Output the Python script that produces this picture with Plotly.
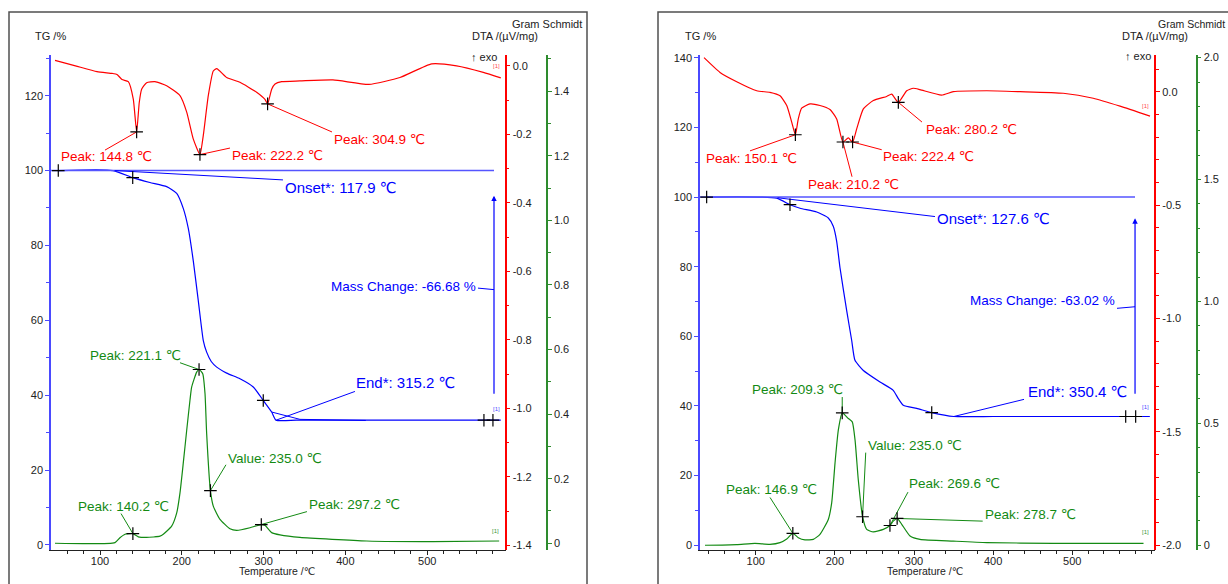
import numpy as np
import plotly.graph_objects as go

W, H = 1228, 584

# ---------------- Sample A (left panel) ----------------
tg_a_temp = [49, 116, 140, 161, 181.5, 193.8, 201.8, 207.9, 214.1, 220.2, 226.3, 230.4,
             236, 242.7, 254.9, 271.1, 287.4, 299.6, 309.9, 315.2, 340, 400, 500, 590]
tg_a = [100, 100, 98.1, 96.8, 95.7, 93.9, 89.9, 84.6, 75.8, 65.2, 54.6, 51.5,
        49.0, 47.5, 45.9, 44.4, 42.2, 38.6, 35.5, 33.32, 33.32, 33.32, 33.32, 33.32]

dta_a_temp = [45, 70, 96.3, 115, 120.8, 126.9, 134.6, 140.7, 144.8, 148, 150.9, 157, 167.2,
              181.5, 197.8, 206, 214.1, 222.2, 226.3, 232.4, 238.5, 242.7, 254.9, 271.1,
              291.5, 301.7, 304.9, 309.9, 314, 322.1, 344.5, 384.8, 428.8, 466.7, 505.5,
              536, 568.6, 590]
dta_a = [0.016, 0.000, -0.017, -0.022, -0.025, -0.040, -0.046, -0.097, -0.193, -0.107, -0.068,
         -0.049, -0.046, -0.058, -0.087, -0.135, -0.214, -0.259, -0.203, -0.087, -0.015,
         -0.008, -0.034, -0.048, -0.077, -0.098, -0.111, -0.068, -0.053, -0.046, -0.044,
         -0.041, -0.054, -0.034, 0.006, 0.000, -0.019, -0.035]

gs_a_temp = [45, 118.3, 124.4, 130.6, 140.2, 146.8, 157, 173.3, 177.4, 187.6, 193.8, 197.8,
             201.8, 206, 210, 212.1, 218.2, 221.1, 225.6, 228.4, 230.4, 235, 238.5, 246.7,
             258.9, 267.1, 283.4, 297.2, 302, 309.9, 320, 344.5, 426, 507, 588]
gs_a = [0.000, 0.002, 0.017, 0.028, 0.030, 0.020, 0.018, 0.022, 0.028, 0.053, 0.094, 0.156,
        0.248, 0.350, 0.443, 0.484, 0.530, 0.538, 0.525, 0.463, 0.340, 0.163, 0.115, 0.074,
        0.045, 0.040, 0.048, 0.058, 0.055, 0.033, 0.026, 0.018, 0.007, 0.005, 0.007]

dta_peaks_a = [144.8, 222.2, 304.9]
gs_peaks_a = [140.2, 221.1, 297.2]
gs_value_a = 235.0
onset_a, end_a, mass_change_a = 117.9, 315.2, -66.68
tg_marks_a = [49, 140, 299.6, 569.4, 580.4]

# ---------------- Sample B (right panel) ----------------
tg_b_temp = [38, 126.5, 143.3, 156, 177.1, 191.7, 198, 202.3, 206.5, 215, 221.3, 225.4,
             236, 257, 273.8, 280.2, 286.5, 303.4, 322.4, 350.4, 400, 500, 598]
tg_b = [100, 99.7, 97.8, 96.8, 95.7, 94.0, 91.6, 87.3, 79.7, 67.3, 58.8, 53.1,
        50.2, 46.9, 44.5, 42.1, 40.2, 39.3, 38.1, 36.98, 36.98, 36.98, 36.98]

dta_b_temp = [34.7, 54.9, 76, 101.3, 118, 130.7, 139.2, 145.5, 150.1, 153.8, 158, 168.6,
              181.2, 193.9, 202.3, 210.2, 217, 222.4, 227.6, 236, 248.6, 265.5, 271.8,
              280.2, 290.8, 299.1, 307.6, 335, 349.7, 391.9, 434, 488.6, 526.5, 560.3, 598.2]
dta_b = [0.150, 0.085, 0.044, 0.004, -0.003, -0.018, -0.061, -0.134, -0.190, -0.120, -0.073,
         -0.054, -0.061, -0.079, -0.120, -0.222, -0.204, -0.222, -0.164, -0.076, -0.039,
         -0.021, -0.011, -0.047, 0.004, 0.015, 0.009, -0.015, 0.000, 0.004, 0.000, -0.007,
         -0.029, -0.064, -0.108]

gs_b_temp = [35.9, 76, 99, 118, 130.7, 139.2, 146.9, 153.8, 162.3, 172.8, 181.2, 191.7, 196,
             200.2, 204.4, 209.3, 217, 222, 225.5, 229.6, 235, 240.2, 248.6, 261.2, 269.6,
             273.8, 278.7, 284.5, 295, 307.6, 349.7, 392, 476, 590]
gs_b = [0.000, 0.003, 0.008, 0.004, 0.011, 0.026, 0.049, 0.031, 0.022, 0.024, 0.045, 0.106,
        0.174, 0.337, 0.473, 0.543, 0.520, 0.506, 0.432, 0.269, 0.117, 0.065, 0.055, 0.065,
        0.081, 0.099, 0.110, 0.086, 0.038, 0.024, 0.017, 0.011, 0.008, 0.008]

dta_peaks_b = [150.1, 210.2, 222.4, 280.2]
gs_peaks_b = [146.9, 209.3, 269.6, 278.7]
gs_value_b = 235.0
onset_b, end_b, mass_change_b = 127.6, 350.4, -63.02
tg_marks_b = [38, 143.3, 322.4, 567.5, 580.1]

temp_ticks = [100, 200, 300, 400, 500]

# ---------------- styling ----------------
FONT = "Liberation Sans, Arial, DejaVu Sans, sans-serif"
BLUE, RED, GREEN = "#0000ff", "#ff0000", "#138a13"
AX_BLUE, AX_GREEN = "#4a4aff", "#2e8b2e"
TXT = "#222222"
PEAK_SIZE = 13.5


def px(x):
    return x / W


def py(y):
    return 1 - y / H


fig = go.Figure()


def curve(x, y, xa, ya, color):
    fig.add_trace(go.Scatter(x=x, y=y, xaxis=xa, yaxis=ya, mode="lines",
                             line=dict(color=color, width=1.2, shape="spline", smoothing=0.5),
                             hoverinfo="skip", showlegend=False))


def seg(x, y, xa, ya, color, width=1.0):
    fig.add_trace(go.Scatter(x=x, y=y, xaxis=xa, yaxis=ya, mode="lines",
                             line=dict(color=color, width=width),
                             hoverinfo="skip", showlegend=False))


def crosses(x, y, xa, ya):
    fig.add_trace(go.Scatter(x=x, y=y, xaxis=xa, yaxis=ya, mode="markers",
                             marker=dict(symbol="cross-thin", size=9,
                                         line=dict(width=1.2, color="black")),
                             hoverinfo="skip", showlegend=False))


annotations = []


def label(text, x, y, xa, ya, color, size=PEAK_SIZE, anchor="left"):
    annotations.append(dict(text=text, x=x, y=y, xref=xa, yref=ya, showarrow=False,
                            xanchor=anchor, yanchor="middle",
                            font=dict(family=FONT, size=size, color=color)))


def at(temps, xs, ys):
    return [float(np.interp(t, xs, ys)) for t in temps]


# ---------------- left panel ----------------
curve(dta_a_temp, dta_a, "x", "y2", RED)
curve(gs_a_temp, gs_a, "x", "y3", GREEN)
curve(tg_a_temp, tg_a, "x", "y", BLUE)

arrow_a = 581.7
seg([40.1, arrow_a], [100, 100], "x", "y", "#5555ff", 1.6)
# onset / end construction
seg([onset_a, 323.7], [100, 97.5], "x", "y", BLUE)
seg([309.9, 344.5, 425], [35.5, 33.55, 33.25], "x", "y", BLUE)
seg([end_a, 411.7], [100 + mass_change_a, 41.0], "x", "y", BLUE)
seg([562.1, arrow_a], [68.6, 68.2], "x", "y", BLUE)
crosses(tg_marks_a, at(tg_marks_a, tg_a_temp, tg_a), "x", "y")

# DTA peaks
dpa = at(dta_peaks_a, dta_a_temp, dta_a)
for t, v, (lx, ly, ex, ey) in zip(dta_peaks_a, dpa,
                                  [(49.9, -0.266, 106.1, -0.246),
                                   (258.9, -0.263, 258.9, -0.240),
                                   (383.6, -0.216, 383.6, -0.193)]):
    seg([t, ex], [v, ey], "x", "y2", RED)
    label(f"Peak: {t:.1f} ℃", lx, ly, "x", "y2", RED)
crosses(dta_peaks_a, dpa, "x", "y2")

# Gram-Schmidt peaks
gpa = at(gs_peaks_a, gs_a_temp, gs_a)
for t, v, (lx, ly, ex, ey) in zip(gs_peaks_a, gpa,
                                  [(70.7, 0.114, 125.7, 0.092),
                                   (85.3, 0.581, 197.8, 0.559),
                                   (353.0, 0.120, 353.0, 0.098)]):
    seg([t, ex], [v, ey], "x", "y3", GREEN)
    label(f"Peak: {t:.1f} ℃", lx, ly, "x", "y3", GREEN)
gva = float(np.interp(gs_value_a, gs_a_temp, gs_a))
seg([gs_value_a, 254.0], [gva, 0.243], "x", "y3", GREEN)
label(f"Value: {gs_value_a:.1f} ℃", 254.0, 0.264, "x", "y3", GREEN)
crosses(gs_peaks_a + [gs_value_a], gpa + [gva], "x", "y3")

label(f"Onset*: {onset_a:.1f} ℃", 323.7, 95.4, "x", "y", BLUE, 15)
label(f"End*: {end_a:.1f} ℃", 410.5, 43.4, "x", "y", BLUE, 15)
label(f"Mass Change: {mass_change_a:.2f} %", 562.1, 68.9, "x", "y", BLUE, 13.5, "right")
annotations.append(dict(x=arrow_a, y=93.3, ax=arrow_a, ay=40.0, xref="x", yref="y",
                        axref="x", ayref="y", text="", showarrow=True, arrowhead=2,
                        arrowsize=0.9, arrowwidth=1.2, arrowcolor=BLUE, standoff=0))

# ---------------- right panel ----------------
curve(dta_b_temp, dta_b, "x2", "y5", RED)
curve(gs_b_temp, gs_b, "x2", "y6", GREEN)
curve(tg_b_temp, tg_b, "x2", "y4", BLUE)

arrow_b = 579.3
seg([29.6, arrow_b], [100, 100], "x2", "y4", "#5555ff", 1.6)
seg([onset_b, 326.5], [99.8, 94.4], "x2", "y4", BLUE)
seg([end_b, 439.0], [100 + mass_change_b, 41.9], "x2", "y4", BLUE)
seg([556.5, arrow_b], [68.05, 68.5], "x2", "y4", BLUE)
crosses(tg_marks_b, at(tg_marks_b, tg_b_temp, tg_b), "x2", "y4")

dpb = at(dta_peaks_b, dta_b_temp, dta_b)
for t, v, (lx, ly, ex, ey) in zip(dta_peaks_b, dpb,
                                  [(34.7, -0.296, 92.8, -0.261),
                                   (163.6, -0.410, 221.7, -0.375),
                                   (258.3, -0.288, 259.2, -0.256),
                                   (312.6, -0.165, 310.1, -0.134)]):
    seg([t, ex], [v, ey], "x2", "y5", RED)
    label(f"Peak: {t:.1f} ℃", lx, ly, "x2", "y5", RED)
crosses(dta_peaks_b, dpb, "x2", "y5")

gpb = at(gs_peaks_b, gs_b_temp, gs_b)
for t, v, (lx, ly, ex, ey) in zip(gs_peaks_b, gpb,
                                  [(59.9, 0.228, 118.1, 0.196),
                                   (92.8, 0.638, 209.3, 0.608),
                                   (291.2, 0.253, 292.4, 0.218),
                                   (387.2, 0.126, 386.8, 0.099)]):
    seg([t, ex], [v, ey], "x2", "y6", GREEN)
    label(f"Peak: {t:.1f} ℃", lx, ly, "x2", "y6", GREEN)
gvb = float(np.interp(gs_value_b, gs_b_temp, gs_b))
seg([gs_value_b, 239.0], [gvb, 0.380], "x2", "y6", GREEN)
label(f"Value: {gs_value_b:.1f} ℃", 239.3, 0.411, "x2", "y6", GREEN)
crosses(gs_peaks_b + [gs_value_b], gpb + [gvb], "x2", "y6")

label(f"Onset*: {onset_b:.1f} ℃", 326.5, 93.8, "x2", "y4", BLUE, 15)
label(f"End*: {end_b:.1f} ℃", 441.5, 44.2, "x2", "y4", BLUE, 15)
label(f"Mass Change: {mass_change_b:.2f} %", 556.5, 70.2, "x2", "y4", BLUE, 13.5, "right")
annotations.append(dict(x=arrow_b, y=93.9, ax=arrow_b, ay=43.1, xref="x2", yref="y4",
                        axref="x2", ayref="y4", text="", showarrow=True, arrowhead=2,
                        arrowsize=0.9, arrowwidth=1.2, arrowcolor=BLUE, standoff=0))

# small "[1]" curve tags at the end of each trace
for xa, ya, t, v, c in [("x", "y2", 585, dta_a[-1] + 0.035, "#ff5050"),
                        ("x", "y", 585, 100 + mass_change_a + 3.0, "#5050ff"),
                        ("x", "y3", 584, gs_a[-1] + 0.03, "#3a9a3a"),
                        ("x2", "y5", 592, dta_b[-1] + 0.045, "#ff5050"),
                        ("x2", "y4", 592, 100 + mass_change_b + 2.8, "#5050ff"),
                        ("x2", "y6", 592, gs_b[-1] + 0.045, "#3a9a3a")]:
    annotations.append(dict(text="[1]", x=t, y=v, xref=xa, yref=ya, showarrow=False,
                            xanchor="center", yanchor="middle",
                            font=dict(family=FONT, size=6, color=c)))

# axis captions
for text, x, y, anc, size in [("TG /%", 50.5, 33, "center", 11),
                              ("DTA /(µV/mg)", 505, 33, "center", 11),
                              ("Gram Schmidt", 546.5, 21, "center", 11),
                              ("↑ exo", 499, 54, "right", 11),
                              ("Temperature /℃", 277, 572, "center", 10.5),
                              ("TG /%", 700, 33, "center", 11),
                              ("DTA /(µV/mg)", 1154.5, 33, "center", 11),
                              ("Gram Schmidt", 1227, 21, "right", 10.5),
                              ("↑ exo", 1153, 53, "right", 11),
                              ("Temperature /℃", 925.5, 572, "center", 10.5)]:
    annotations.append(dict(text=text, x=px(x), y=py(y), xref="paper", yref="paper",
                            showarrow=False, xanchor=anc, yanchor="middle",
                            font=dict(family=FONT, size=size, color=TXT)))

# panel frames
shapes = [dict(type="rect", xref="paper", yref="paper", x0=px(9), x1=px(587),
               y0=-0.05, y1=py(9), line=dict(color="#505050", width=1.5)),
          dict(type="rect", xref="paper", yref="paper", x0=px(658), x1=1.05,
               y0=-0.05, y1=py(9), line=dict(color="#505050", width=1.5))]

tickfont = dict(family=FONT, size=11, color=TXT)
ydom = [py(550.7), py(52)]


def xax(dom, rng, anchor):
    return dict(domain=dom, range=rng, anchor=anchor, showline=True, linecolor="#222",
                linewidth=1, ticks="outside", ticklen=4, tickcolor="#222",
                tickmode="array", tickvals=temp_ticks, ticklabelstandoff=-3,
                minor=dict(ticks="outside", ticklen=3, dtick=20, tick0=0,
                           tickcolor="#222"),
                showgrid=False, zeroline=False, tickfont=tickfont, fixedrange=True)


def tgax(rng, anchor):
    return dict(domain=ydom, range=rng, anchor=anchor, side="left", showline=True,
                linecolor=AX_BLUE, linewidth=1.5, ticks="outside", ticklen=4,
                tickcolor=AX_BLUE, dtick=20, tick0=0,
                minor=dict(ticks="outside", ticklen=3, dtick=10, tick0=0, tickcolor=AX_BLUE),
                showgrid=False, zeroline=False, tickfont=tickfont)


def sideax(rng, over, pos, color, vals, texts, minor_step):
    return dict(overlaying=over, anchor="free", position=pos, side="right", range=rng,
                showline=True, linecolor=color, linewidth=1.5, ticks="outside", ticklen=4,
                tickcolor=color, tickmode="array", tickvals=vals, ticktext=texts,
                minor=dict(ticks="outside", ticklen=3, dtick=minor_step, tick0=0,
                           tickcolor=color),
                showgrid=False, zeroline=False, tickfont=tickfont)


dta_a_ticks = [round(-0.2 * i, 1) + 0.0 for i in range(8)]
gs_a_ticks = [round(0.2 * i, 1) for i in range(8)]
dta_b_ticks = [round(-0.5 * i, 1) + 0.0 for i in range(5)]
gs_b_ticks = [round(0.5 * i, 1) for i in range(5)]


def ftxt(v):
    return "0" if v == 0 else f"{v:.1f}"


fig.update_layout(
    width=W, height=H, margin=dict(l=0, r=0, t=0, b=0),
    paper_bgcolor="white", plot_bgcolor="white", showlegend=False,
    xaxis=xax([px(51), px(505.7)], [40.1, 596.0], "y"),
    yaxis=tgax([-1.33, 130.96], "x"),
    yaxis2=sideax([-1.4136, 0.0328], "y", px(505.7), RED, dta_a_ticks,
                  [f"{v:.1f}" for v in dta_a_ticks], 0.1),
    yaxis3=sideax([-0.0206, 1.5129], "y", px(547), AX_GREEN, gs_a_ticks,
                  [ftxt(v) for v in gs_a_ticks], 0.1),
    xaxis2=xax([px(700), px(1155.3)], [29.6, 604.9], "y4"),
    yaxis4=tgax([-1.34, 140.9], "x2"),
    yaxis5=sideax([-2.0206, 0.1633], "y4", px(1155.3), RED, dta_b_ticks,
                  [f"{v:.1f}" for v in dta_b_ticks], 0.1),
    yaxis6=sideax([-0.0191, 2.0122], "y4", px(1196.7), AX_GREEN, gs_b_ticks,
                  [ftxt(v) for v in gs_b_ticks], 0.1),
    annotations=annotations, shapes=shapes,
)

fig.write_html("out.html")
